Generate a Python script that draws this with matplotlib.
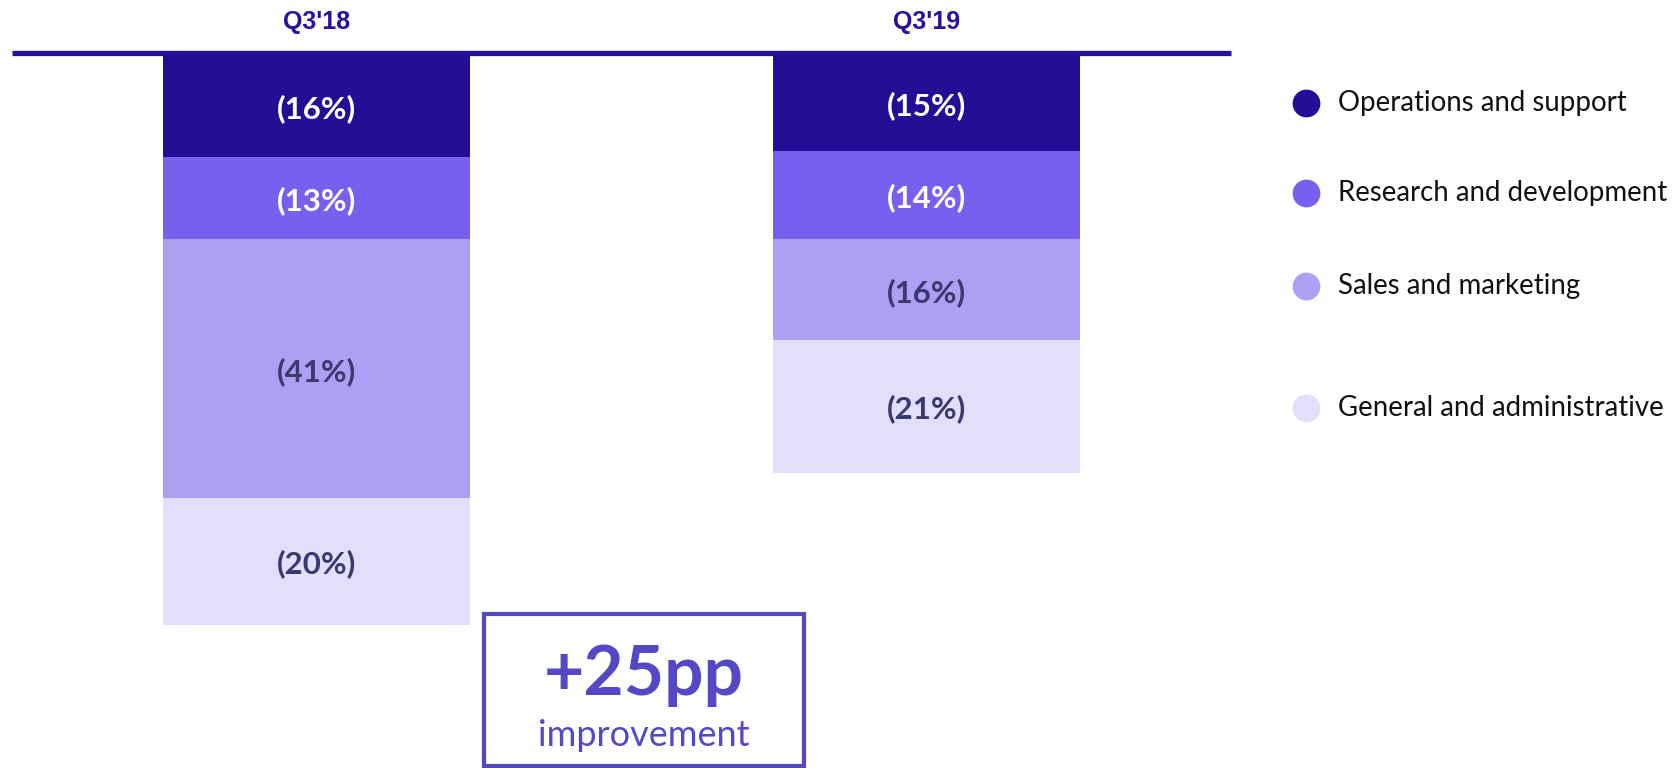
import matplotlib.pyplot as plt
from matplotlib.patches import Rectangle

# data
categories = ["Operations and support", "Research and development",
              "Sales and marketing", "General and administrative"]
periods = ["Q3'18", "Q3'19"]
q3_18 = [16, 13, 41, 20]
q3_19 = [15, 14, 16, 21]
callout_big = "+25pp"
callout_small = "improvement"

colors = ["#250E96", "#7660EE", "#AE9FF4", "#E2DEFC"]
label_colors = ["white", "white", "#3A3A6E", "#3A3A6E"]
navy = "#2A0F9A"
box_color = "#5548C4"

plt.rcParams['font.family'] = ['Lato', 'DejaVu Sans']

fig = plt.figure(figsize=(16.76, 7.68), dpi=100)
ax = fig.add_axes([0, 0, 1, 1])
ax.set_xlim(-0.519, 2.229)
ax.set_ylim(112.7, -8.86)
ax.axis('off')

series = [q3_18, q3_19]
width = 0.503
for i, vals in enumerate(series):
    bottom = 0
    for j, v in enumerate(vals):
        ax.bar(i, v, width=width, bottom=bottom, color=colors[j], linewidth=0)
        ax.text(i, bottom + v / 2 + 0.4, "({}%)".format(v), ha='center', va='center',
                fontsize=22.5, fontweight='bold', color=label_colors[j])
        bottom += v
    ax.text(i, -5.3, periods[i], ha='center', va='center', fontsize=18,
            fontweight='bold', color=navy,
            family=['Liberation Sans Narrow', 'Liberation Sans'])

# top rule
ax.plot([-0.5, 1.5], [-0.4, -0.4], color=navy, lw=3.8, solid_capstyle='butt', zorder=5)

# legend
leg_y = [0.866, 0.749, 0.628, 0.469]
for j, name in enumerate(categories):
    ax.scatter([0.7793], [leg_y[j]], s=360, color=colors[j], transform=fig.transFigure,
               clip_on=False)
    fig.text(0.7985, leg_y[j], name, ha='left', va='center', fontsize=19.9, color='#111111')

# callout box
box = Rectangle((0.2888, 0.003), 0.1912, 0.197, transform=fig.transFigure,
                fill=False, edgecolor=box_color, linewidth=3.0)
fig.patches.append(box)
fig.text(0.3843, 0.120, callout_big, ha='center', va='center', fontsize=50,
         fontweight='bold', color=box_color)
fig.text(0.3843, 0.042, callout_small, ha='center', va='center', fontsize=26,
         color=box_color)

fig.savefig("out.png", dpi=100)
